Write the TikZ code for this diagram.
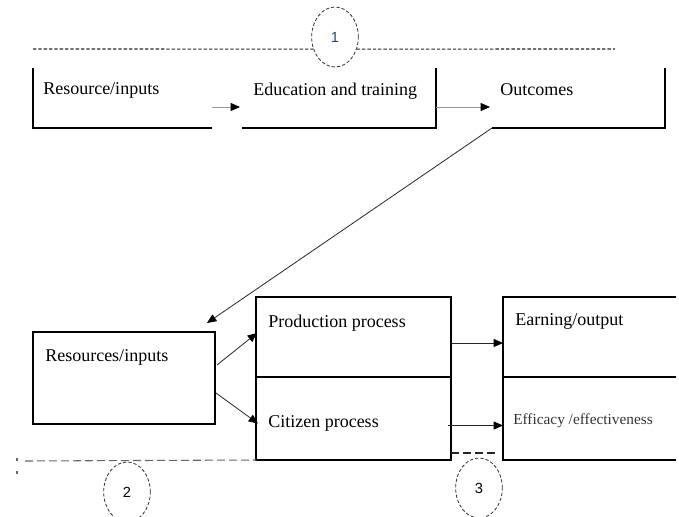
\documentclass[tikz,border=0pt]{standalone}
\usepackage{fontspec}
\setmainfont{Liberation Serif}
\newfontfamily\numfont{Liberation Sans}
\usepackage{tikz}
\usetikzlibrary{positioning, arrows.meta, shapes.geometric}
\definecolor{numblue}{HTML}{1F4E6B}

\begin{document}
\begin{tikzpicture}[x=0.75pt, y=-0.75pt,
      cell/.style 2 args={minimum width=#1*0.75pt, minimum height=#2*0.75pt,
                          inner sep=0pt, outer sep=0pt, anchor=north west},
      txt/.style={font=\fontsize{13.5}{16}\selectfont, anchor=base west, inner sep=0pt},
      edge/.style={line width=0.8pt, black},
      flow/.style={-{Triangle[length=7pt, width=6pt, color=black]}, line width=0.6pt},
      ring/.style={ellipse, draw=black!80, dash pattern=on 2.5pt off 1.5pt, line width=0.6pt,
                   minimum width=35pt, minimum height=45pt, inner sep=0pt,
                   font=\numfont\fontsize{11}{13}\selectfont},
      sep/.style={line width=0.8pt},
      ]

      \useasboundingbox (0,0) rectangle (679,517);

      % ---- stage 1 (TOP) ----
      \node[cell={179}{60}] (resTop) at (33,68) {};
      \node[cell={194}{60}] (eduTop) at (242,68) {};
      \node[cell={173}{60}] (outTop) at (492,68) {};
      \draw[edge] (resTop.north west) |- (resTop.south east);
      \draw[edge] (eduTop.south west) -| (eduTop.north east);
      \draw[edge] (outTop.south west) -| (outTop.north east);

      \node[txt] (resTopTxt) at (43,95) {Resource/inputs};
      \node[txt] (eduTopTxt) at (253,96) {Education and training};
      \node[txt] (outTopTxt) at (500,96) {Outcomes};

      \draw[flow, black!40] ([shift={(0,9)}]resTop.east) -- ([shift={(-2,9)}]eduTop.west);
      \draw[flow, black!40] ([shift={(0,9)}]eduTop.east) -- ([shift={(-2,9)}]outTop.west);

      % divider with circle 1
      \coordinate (topL) at (33,49);
      \coordinate (topR) at (615,49);
      \node[ring] (ring1) at (335,37) {\textcolor{numblue}{1}};
      \draw[sep, black!85, dash pattern=on 2.5pt off 1.5pt] (topL) -- (ring1.209);
      \draw[sep, black!85, dash pattern=on 2.5pt off 1.5pt] (ring1.331) -- (topR);

      % ---- stage 2 (BOTTOM LEFT) ----
      \node[cell={182}{92}, draw, edge] (resBot) at (33,332) {};
      \node[txt] (resBotTxt) at (45,361) {Resources/inputs};

      \node[cell={195}{80}, draw, edge] (prod) at (256,297) {};
      \node[cell={195}{83}, draw, edge] (cit)  at (256,377) {};
      \node[txt] (prodTxt) at (268,327) {Production process};
      \node[txt] (citTxt)  at (268,427) {Citizen process};

      \draw[flow, black!85] (outTop.south west) -- ([shift={(-8,-9)}]resBot.north east);
      \draw[flow, black!85] ([shift={(2,-13)}]resBot.east) -- ([shift={(1,-4)}]prod.west);
      \draw[flow, black!85] ([shift={(1,15)}]resBot.east) -- ([shift={(2,5)}]cit.west);

      % ---- stage 3 (BOTTOM RIGHT) ----
      \node[cell={173}{80}] (earn) at (503,297) {};
      \node[cell={173}{83}] (eff)  at (503,377) {};
      \draw[edge] (earn.north east) -- (earn.north west) -- (eff.south west) -- (eff.south east);
      \draw[edge] (earn.south west) -- (earn.south east);
      \node[txt] (earnTxt) at (515,325) {Earning/output};
      \node[txt, font=\fontsize{11.5}{14}\selectfont, black!80] (effTxt) at (513,424) {Efficacy /effectiveness};

      \draw[flow, black!85] ([shift={(0,6)}]prod.east) -- ([shift={(0,6)}]earn.west);
      \draw[flow, black!85] ([shift={(-3,7)}]cit.east) -- ([shift={(0,7)}]eff.west);

      % ---- bottom dividers with circles 2 and 3 ----
      \coordinate (botL) at (25,461);
      \draw[sep, black!60, dash pattern=on 6pt off 3pt] (botL) -- (cit.south west);
      \draw[black!60, line width=0.8pt] (17,458) -- (17,461) (17,471) -- (17,474);
      \node[ring] (ring2) at (127,492) {2};

      \draw[sep, black!85, dash pattern=on 6pt off 3pt]
            ([shift={(0,-7)}]cit.south east) -- ([shift={(-5,-7)}]eff.south west);
      \node[ring] (ring3) at (479,488) {3};

\end{tikzpicture}
\end{document}
